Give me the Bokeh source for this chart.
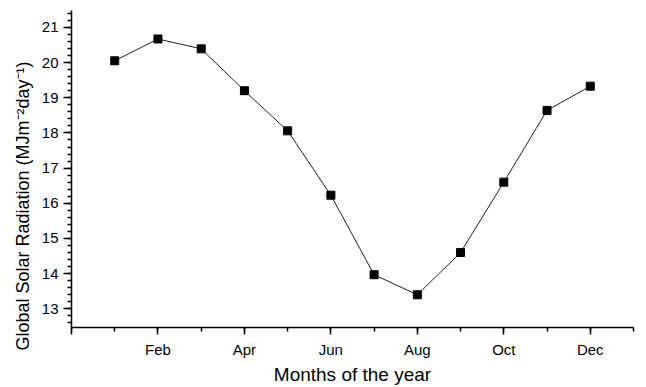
from bokeh.plotting import figure
from bokeh.models import Range1d, SingleIntervalTicker, Title
from bokeh.embed import file_html
from bokeh.resources import INLINE

# ---- data ----
months = ["Jan", "Feb", "Mar", "Apr", "May", "Jun",
          "Jul", "Aug", "Sep", "Oct", "Nov", "Dec"]
radiation = [20.05, 20.67, 20.39, 19.20, 18.06, 16.23,
             13.97, 13.40, 14.60, 16.60, 18.64, 19.33]
y_ticks_interval = 1
x_label_text = "Months of the year"
y_label_text = "Global Solar Radiation (MJm\u207b\u00b2day\u207b\u00b9)"

month_pos = list(range(1, len(months) + 1))

FONT = "Liberation Sans"

p = figure(width=646, height=387, output_backend="svg", toolbar_location=None,
           x_range=Range1d(0, 13), y_range=Range1d(12.47, 21.48),
           min_border_left=71, min_border_right=13, min_border_top=10,
           min_border_bottom=52, outline_line_color=None)
p.grid.visible = False

p.line(month_pos, radiation, line_color="#222222", line_width=1)
p.scatter(month_pos, radiation, marker="square", size=8,
          fill_color="black", line_color="black")

# axes
xa = p.xaxis[0]
xa.ticker = SingleIntervalTicker(interval=2, num_minor_ticks=2)
xa.major_label_overrides = {i: (months[i - 1] if 1 <= i <= 12 else "") for i in range(0, 14, 2)}
ya = p.yaxis[0]
ya.ticker = SingleIntervalTicker(interval=y_ticks_interval, num_minor_ticks=5)

for ax, maj, mnr in ((xa, 7, 4), (ya, 8, 4)):
    ax.axis_line_width = 1.5
    ax.axis_line_color = "black"
    ax.major_tick_line_width = 1.5
    ax.minor_tick_line_width = 1.5
    ax.major_tick_line_color = "black"
    ax.minor_tick_line_color = "black"
    ax.major_tick_in = 0
    ax.major_tick_out = maj
    ax.minor_tick_in = 0
    ax.minor_tick_out = mnr
    ax.major_label_text_font = FONT
    ax.major_label_text_font_size = "15px"
    ax.major_label_text_color = "black"

xa.major_label_standoff = 6
ya.major_label_standoff = 5

xa.axis_label = x_label_text
xa.axis_label_text_font = FONT
xa.axis_label_text_font_size = "19px"
xa.axis_label_text_font_style = "normal"
xa.axis_label_text_color = "black"
xa.axis_label_standoff = 3

p.add_layout(Title(text=y_label_text, align="left", offset=-23, standoff=12,
                   text_font=FONT, text_font_size="18px",
                   text_font_style="normal", text_color="black"), "left")

open("out.html", "w").write(file_html(p, INLINE))
